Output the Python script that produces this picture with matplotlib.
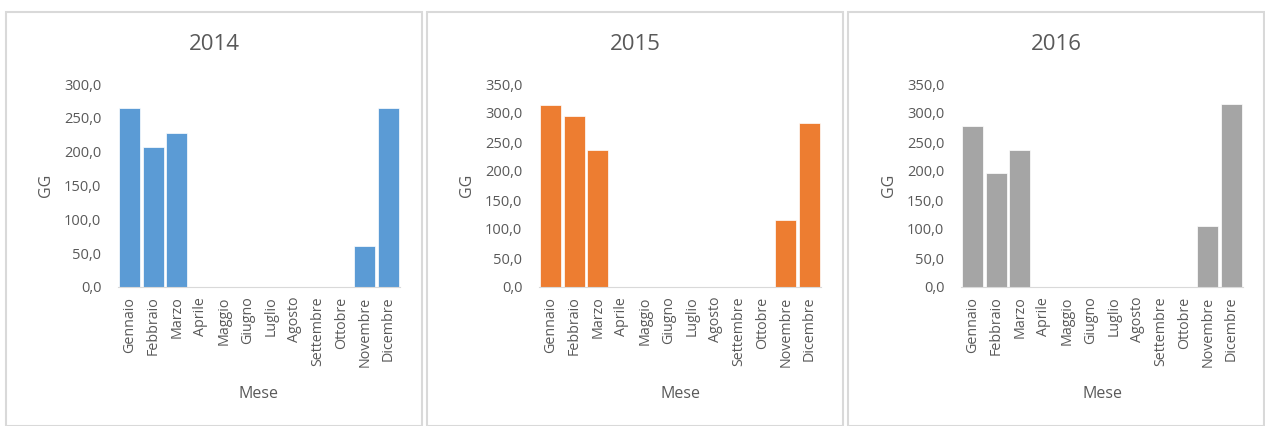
import matplotlib
matplotlib.use("Agg")
import matplotlib.pyplot as plt
from matplotlib.patches import Rectangle
from matplotlib.ticker import FuncFormatter

months = ["Gennaio", "Febbraio", "Marzo", "Aprile", "Maggio", "Giugno",
          "Luglio", "Agosto", "Settembre", "Ottobre", "Novembre", "Dicembre"]
years = ["2014", "2015", "2016"]
gg_2014 = [264, 207, 227, 0, 0, 0, 0, 0, 0, 0, 60, 264]
gg_2015 = [313, 294, 236, 0, 0, 0, 0, 0, 0, 0, 116, 283]
gg_2016 = [277, 196, 237, 0, 0, 0, 0, 0, 0, 0, 105, 315]
series = [gg_2014, gg_2015, gg_2016]
colors = ["#5B9BD5", "#ED7D31", "#A5A5A5"]
ymax = [300, 350, 350]

plt.rcParams["font.family"] = ["Open Sans", "DejaVu Sans"]
W, H = 1265, 426
fig = plt.figure(figsize=(W / 100, H / 100), dpi=100)

panel_left = [6, 427, 848]
panel_w = 416
ax_left = [118, 539, 961]
ax_w = 282
fmt = FuncFormatter(lambda v, _: f"{v:.1f}".replace(".", ","))
text_col = "#595959"

for i in range(3):
    # chart frame
    fig.patches.append(Rectangle((panel_left[i] / W, 0.0), panel_w / W, 1 - 12 / H,
                                 transform=fig.transFigure, fill=False,
                                 edgecolor="#D9D9D9", lw=1.5))
    ax = fig.add_axes([ax_left[i] / W, 139 / H, ax_w / W, 203 / H])
    x = range(len(months))
    ax.bar(x, series[i], width=0.9, color=colors[i], edgecolor="white", lw=0.5)
    ax.set_xlim(-0.5, 11.5)
    ax.set_ylim(0, ymax[i])
    ax.set_yticks(range(0, ymax[i] + 1, 50))
    ax.yaxis.set_major_formatter(fmt)
    ax.set_xticks(list(x))
    ax.set_xticklabels(months, rotation=90)
    for s in ["top", "right", "left"]:
        ax.spines[s].set_visible(False)
    ax.spines["bottom"].set_color("#D9D9D9")
    ax.tick_params(axis="x", length=0, labelsize=10.3, colors=text_col, pad=7)
    ax.tick_params(axis="y", length=0, labelsize=10.5, colors=text_col, pad=12)
    ax.set_ylabel("GG", fontsize=11.5, color=text_col, labelpad=7)
    ax.set_xlabel("Mese", fontsize=11.5, color=text_col, labelpad=14)
    fig.text((panel_left[i] + panel_w / 2) / W, 1 - 45 / H, years[i],
             ha="center", va="center", fontsize=16, color=text_col)

fig.savefig("out.png", dpi=100)
